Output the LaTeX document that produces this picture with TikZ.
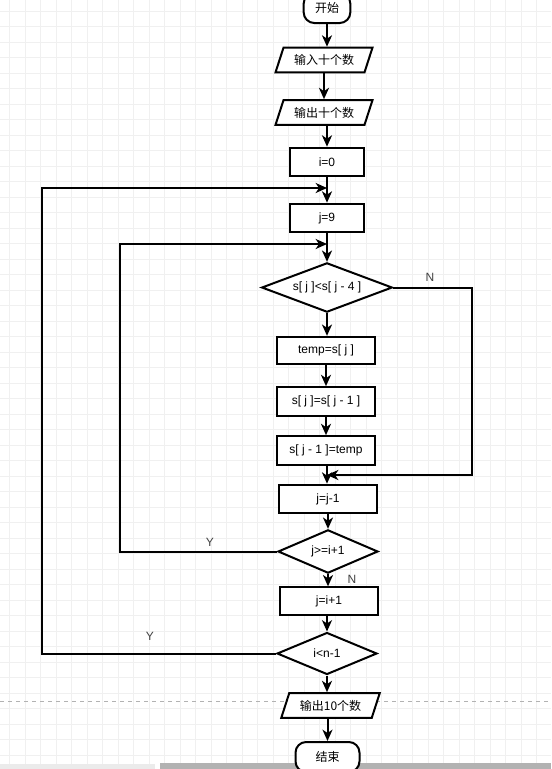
\documentclass[tikz,border=0pt]{standalone}
\usepackage{fontspec}
\setmainfont{Liberation Sans}
\newfontfamily\cjk{Noto Sans CJK SC}
\usetikzlibrary{shapes.geometric,arrows.meta}

\begin{document}
\begin{tikzpicture}[
x=0.75pt,
y=-0.75pt,
>={Stealth[length=8.5pt,width=7.5pt,inset=2.5pt]},
font=\fontsize{9pt}{11pt}\selectfont,
terminal/.style={
rectangle,
rounded corners=8pt,
draw=black,
line width=1.5pt,
fill=white,
align=center,
minimum height=22.5pt,
inner sep=0pt
},
io/.style={
trapezium,
trapezium left angle=62,
trapezium right angle=118,
trapezium stretches=true,
draw=black,
line width=1.5pt,
fill=white,
align=center,
minimum width=73pt,
minimum height=18.5pt,
inner sep=0pt
},
process/.style={
rectangle,
draw=black,
line width=1.5pt,
fill=white,
align=center,
minimum width=73pt,
minimum height=21.5pt,
inner sep=0pt
},
decision/.style={
diamond,
aspect=2.6,
draw=black,
line width=1.5pt,
fill=white,
align=center,
minimum width=75pt,
minimum height=31.5pt,
inner sep=0pt
},
lbl/.style={
text=black!75,
inner sep=0pt
},
arrow/.style={
->,
line width=1.5pt,
draw=black
},
gridline/.style={
draw=black!6,
line width=0.6pt
}
]

\useasboundingbox (0,0) rectangle (551,769);
\clip (0,0) rectangle (551,769);
\fill[white] (0,0) rectangle (551,769);

% background grid
\foreach \gx in {9.8,25.3,...,551}
  \draw[gridline] (\gx,0) -- (\gx,769);
\foreach \gy in {11.3,26.8,...,769}
  \draw[gridline] (0,\gy) -- (551,\gy);

% page break and scroll bar
\draw[black!30, dashed, line width=0.6pt] (0,701) -- (551,701);
\fill[black!8] (0,764) rectangle (155,769);
\fill[black!30] (160,763) rectangle (551,769);

\node[terminal, minimum width=35pt] (start) at (327,8) {\cjk 开始};

\node[io] (input) at (324,60) {\cjk 输入十个数};

\node[io] (output) at (324,112.5) {\cjk 输出十个数};

\node[process, minimum width=55pt] (iinit) at (327,162) {i=0};

\node[process, minimum width=55pt] (jinit) at (327,218) {j=9};

\node[decision, minimum width=98pt, minimum height=37pt] (compare) at (327,287.5) {s[ j ]<s[ j - 4 ]};

\node[process, minimum height=20.5pt] (temp) at (326,350.5) {temp=s[ j ]};

\node[process] (swapa) at (326,401.5) {s[ j ]=s[ j - 1 ]};

\node[process] (swapb) at (326,450.5) {s[ j - 1 ]=temp};

\node[process] (jdec) at (328,499) {j=j-1};

\node[decision, minimum height=32.5pt] (jcheck) at (328,551.5) {j>=i+1};

\node[process, minimum height=20.5pt] (iinc) at (329,601) {j=i+1};

\node[decision] (icheck) at (327,653.5) {i<n-1};

\node[io, minimum width=74pt] (result) at (330.5,705.5) {\cjk 输出10个数};

\node[terminal, minimum width=48pt] (stop) at (327.5,757) {\cjk 结束};

% loop joins
\coordinate (outerin) at (327,188);
\coordinate (innerin) at (327,244);
\coordinate (merge) at (327,475);

\node[lbl] (nlabel) at (430,277) {N};
\node[lbl] (yinner) at (210,542) {Y};
\node[lbl] (nexit) at (352,579) {N};
\node[lbl] (youter) at (150,636) {Y};

\draw[arrow] (start.south) -- (start.south |- input.north);
\draw[arrow] (input.south) -- (input.south |- output.north);
\draw[arrow] (output.south -| iinit.north) -- (iinit.north);
\draw[arrow] (iinit.south) -- (jinit.north);
\draw[arrow] (jinit.south) -- (compare.north);
\draw[arrow] (compare.south) -- (compare.south |- temp.north);
\draw[arrow] (temp.south) -- (swapa.north);
\draw[arrow] (swapa.south) -- (swapb.north);
\draw[arrow] (swapb.south -| merge) -- (merge |- jdec.north);
\draw[arrow] (jdec.south) -- (jdec.south |- jcheck.north);
\draw[arrow] (jcheck.south) -- (jcheck.south |- iinc.north);
\draw[arrow] (iinc.south -| icheck.north) -- (icheck.north);
\draw[arrow] (icheck.south) -- (icheck.south |- result.north);
\draw[arrow] (result.south -| stop.north) -- (stop.north);

\draw[arrow] (compare.east) -- ++(79,0) |- (merge);
\draw[arrow] (jcheck.west) -- ++(-157,0) |- (innerin);
\draw[arrow] (icheck.west) -- ++(-234,0) |- (outerin);

\end{tikzpicture}
\end{document}
